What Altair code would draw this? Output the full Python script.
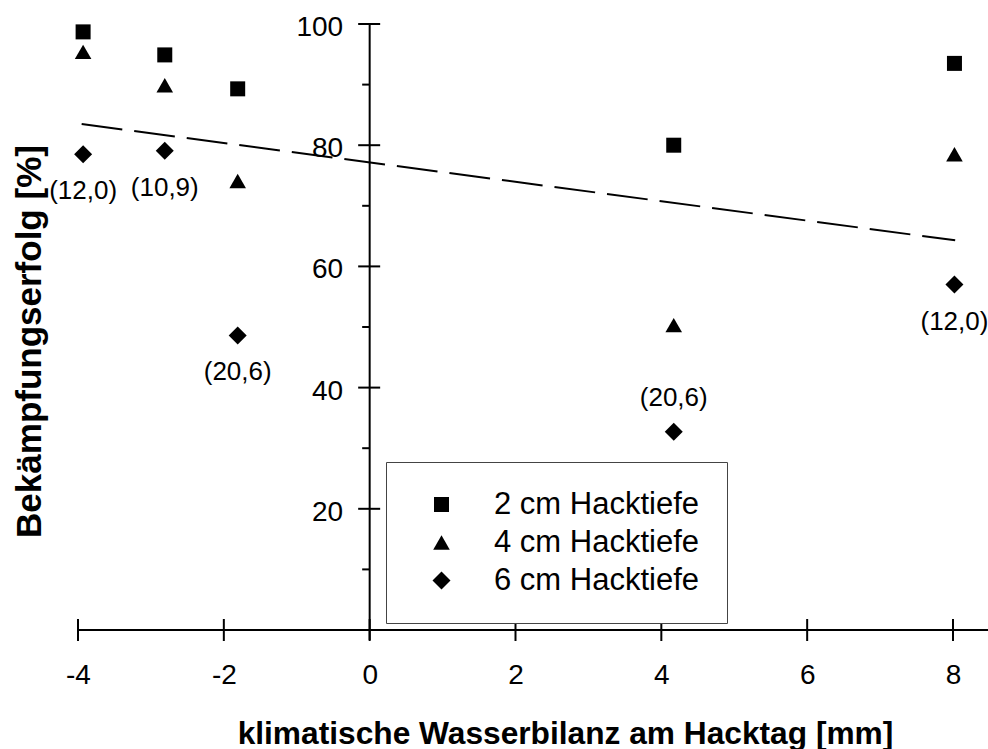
import altair as alt
import pandas as pd

# --- Messwerte: Bekämpfungserfolg je Hacktiefe über der klimatischen Wasserbilanz ---
wasserbilanz = [-3.93, -2.81, -1.81, 4.17, 8.02]
serien = ["2 cm Hacktiefe", "4 cm Hacktiefe", "6 cm Hacktiefe"]
erfolg_2cm = [98.7, 94.9, 89.3, 80.0, 93.5]
erfolg_4cm = [95.4, 89.9, 74.1, 50.3, 78.5]
erfolg_6cm = [78.5, 79.1, 48.6, 32.7, 57.0]
beschriftung_6cm = ["(12,0)", "(10,9)", "(20,6)", "(20,6)", "(12,0)"]
lage_6cm = ["unten", "unten", "unten", "oben", "unten"]

# Regressionsgerade (Endpunkte)
trend_x = [-3.95, 8.03]
trend_y = [83.5, 64.3]

# Achsenteilung
y_haupt = [20, 40, 60, 80, 100]
y_neben = [10, 30, 50, 70, 90]
x_haupt = [-4, -2, 0, 2, 4, 6, 8]

# --- Layout ---
X_MIN, X_MAX = -4, 8.48
Y_MIN, Y_MAX = -1.65, 100
W, H = 910, 616
LEFT, TOP = 78, 24
FONT = "Liberation Sans"
px_x = W / (X_MAX - X_MIN)
px_y = H / (Y_MAX - Y_MIN)
achse_x_px = (0 - X_MIN) * px_x  # Lage der y-Achse (x = 0)
achse_y_px = (0 - Y_MIN) * px_y  # Lage der x-Achse (y = 0), von unten

xs = alt.Scale(domain=[X_MIN, X_MAX], nice=False, zero=False)
ys = alt.Scale(domain=[Y_MIN, Y_MAX], nice=False, zero=False)

punkte = pd.DataFrame({
    "x": wasserbilanz * 3,
    "y": erfolg_2cm + erfolg_4cm + erfolg_6cm,
    "serie": [s for s in serien for _ in wasserbilanz],
})

legende = alt.Legend(
    title=None, orient="none", legendX=308, legendY=438,
    fillColor="white", strokeColor="#444444", padding=27,
    labelFont=FONT, labelFontSize=31, labelColor="black", labelLimit=0,
    labelOffset=37, symbolOffset=13, rowPadding=6,
    symbolFillColor="black", symbolStrokeWidth=0, symbolOpacity=1,
)

x_achse = alt.Axis(
    values=x_haupt, domain=False, ticks=False, tickSize=0, grid=False,
    labelFont=FONT, labelFontSize=28, labelColor="black", labelPadding=31.5,
    labelFlush=False, labelOverlap=False, labelExpr="toString(datum.value)",
    offset=-achse_y_px,
    title="klimatische Wasserbilanz am Hacktag [mm]", titleFont=FONT,
    titleFontSize=31.7, titleFontWeight="bold", titleColor="black",
    titleX=565 - LEFT, titleY=743 - (TOP + H - achse_y_px),
    titleBaseline="alphabetic", titleAlign="center",
)
y_achse = alt.Axis(
    values=y_haupt, domain=False, ticks=False, tickSize=0, grid=False,
    labelFont=FONT, labelFontSize=28, labelColor="black", labelPadding=27,
    labelOffset=3.5, labelFlush=False, labelOverlap=False,
    offset=-achse_x_px,
    title="Bekämpfungserfolg [%]", titleFont=FONT, titleFontSize=35,
    titleFontWeight="bold", titleColor="black", titleAngle=270,
    titleX=40 - (LEFT + achse_x_px), titleY=341 - TOP,
    titleBaseline="alphabetic", titleAlign="center",
)


def qx(feld, **kw):
    return alt.X(feld, scale=xs, axis=x_achse, **kw)


def qy(feld, **kw):
    return alt.Y(feld, scale=ys, axis=y_achse, **kw)


def dx(wert):
    return alt.XDatum(wert, type="quantitative", scale=xs, axis=x_achse)


def dy(wert):
    return alt.YDatum(wert, type="quantitative", scale=ys, axis=y_achse)


symbole = alt.Chart(punkte).mark_point(
    filled=True, opacity=1, color="black", strokeWidth=0
).encode(
    x=qx("x:Q"),
    y=qy("y:Q"),
    shape=alt.Shape("serie:N", scale=alt.Scale(domain=serien, range=["square", "triangle-up", "diamond"]), legend=legende),
    size=alt.Size("serie:N", scale=alt.Scale(domain=serien, range=[225, 324, 400]), legend=legende),
)

trend = alt.Chart(pd.DataFrame({"x": trend_x, "y": trend_y})).mark_line(
    color="black", strokeWidth=2, strokeDash=[41, 12]
).encode(x=qx("x:Q"), y=qy("y:Q"))

eins = pd.DataFrame({"k": [0]})
linie_y = alt.Chart(eins).mark_rule(color="black", strokeWidth=2).encode(
    x=dx(0), y=dy(Y_MIN), y2=alt.Y2Datum(Y_MAX),
)
linie_x = alt.Chart(eins).mark_rule(color="black", strokeWidth=2).encode(
    y=dy(0), x=dx(X_MIN), x2=alt.X2Datum(X_MAX),
)

striche_y = alt.Chart(pd.DataFrame({"y": y_haupt})).mark_rule(
    color="black", strokeWidth=2, xOffset=-11.5, x2Offset=10.5
).encode(y=qy("y:Q"), x=dx(0), x2=alt.X2Datum(0))

striche_y_neben = alt.Chart(pd.DataFrame({"y": y_neben})).mark_rule(
    color="black", strokeWidth=2, xOffset=-7.5, x2Offset=0
).encode(y=qy("y:Q"), x=dx(0), x2=alt.X2Datum(0))

striche_x = alt.Chart(pd.DataFrame({"x": x_haupt})).mark_rule(
    color="black", strokeWidth=2, yOffset=-11, y2Offset=11
).encode(x=qx("x:Q"), y=dy(0), y2=alt.Y2Datum(0))

marken = pd.DataFrame({
    "x": wasserbilanz, "y": erfolg_6cm,
    "text": beschriftung_6cm, "lage": lage_6cm,
})
text_unten = alt.Chart(marken).transform_filter(alt.datum.lage == "unten").mark_text(
    font=FONT, fontSize=26, color="black", baseline="middle", dy=37
).encode(x=qx("x:Q"), y=qy("y:Q"), text="text:N")

text_oben = alt.Chart(marken).transform_filter(alt.datum.lage == "oben").mark_text(
    font=FONT, fontSize=26, color="black", baseline="middle", dy=-34
).encode(x=qx("x:Q"), y=qy("y:Q"), text="text:N")

chart = alt.layer(
    symbole, linie_x, linie_y, striche_x, striche_y, striche_y_neben,
    trend, text_unten, text_oben,
).properties(
    width=W, height=H,
    autosize=alt.AutoSizeParams(type="none"),
    padding={"left": LEFT, "top": TOP, "right": 0, "bottom": 749 - TOP - H},
    background="white",
).configure_view(stroke=None).configure_legend(strokeWidth=1)

chart.save("out.html", embed_options={"renderer": "svg", "actions": False})
